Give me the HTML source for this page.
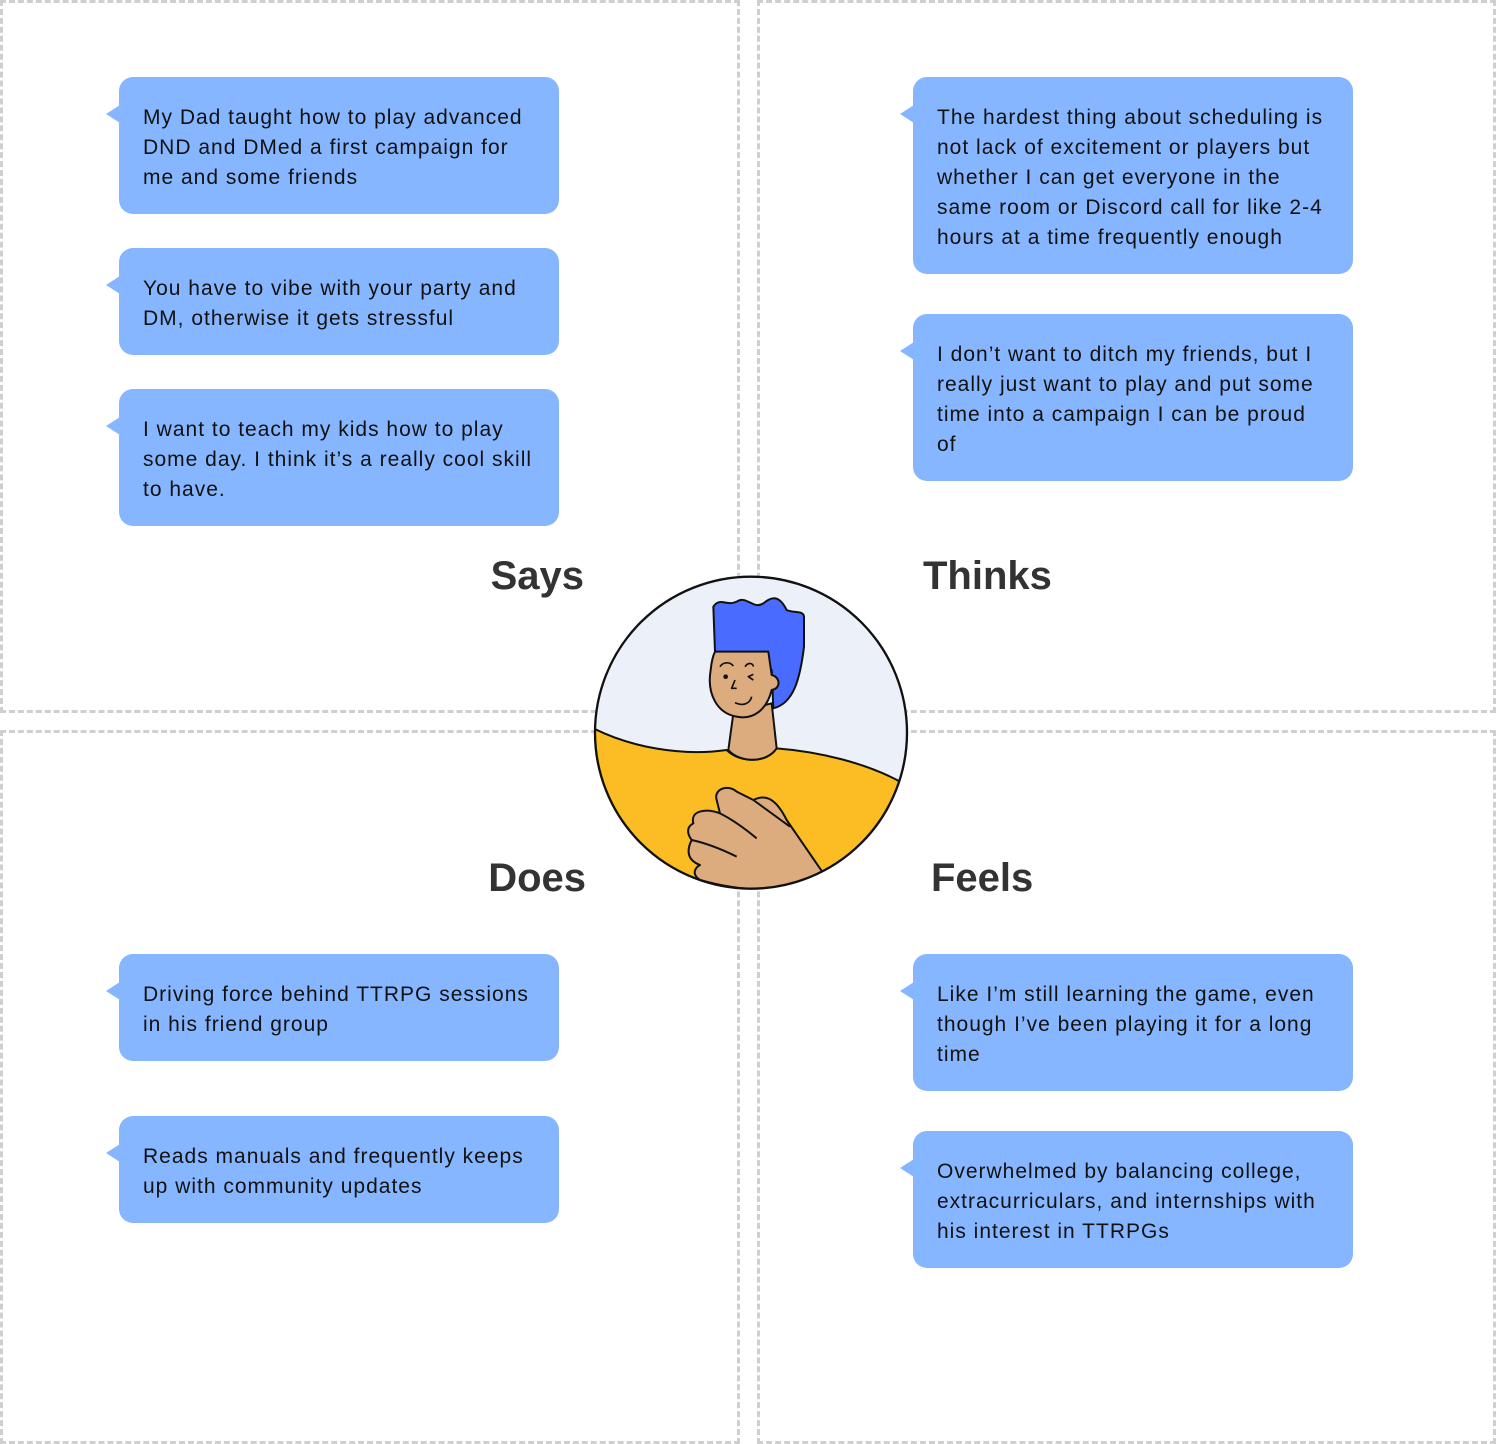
<!DOCTYPE html>
<html><head><meta charset="utf-8"><style>
html,body{margin:0;padding:0;background:#fff;}
body{width:1496px;height:1444px;position:relative;overflow:hidden;font-family:"Liberation Sans",sans-serif;}
.q{position:absolute;border:3px dashed #cfcfcf;box-sizing:border-box;}
.b{position:absolute;background:#86b6ff;border-radius:14px;width:440px;box-sizing:border-box;padding:26px 0 0 24px;font-size:21px;line-height:30px;color:#111;white-space:nowrap;letter-spacing:1px;}
.b:before{content:"";position:absolute;left:-13px;top:28px;border-top:9px solid transparent;border-bottom:9px solid transparent;border-right:14px solid #86b6ff;}
.h{position:absolute;font-size:40px;font-weight:bold;color:#333;line-height:48px;}
</style></head><body>
<div class="q" style="left:0;top:0;width:740px;height:713px"></div>
<div class="q" style="left:757px;top:0;width:739px;height:713px"></div>
<div class="q" style="left:0;top:730px;width:740px;height:714px"></div>
<div class="q" style="left:757px;top:730px;width:739px;height:714px"></div>

<div class="b" style="left:119px;top:77px;height:137px">My Dad taught how to play advanced<br>DND and DMed a first campaign for<br>me and some friends</div>
<div class="b" style="left:119px;top:248px;height:107px">You have to vibe with your party and<br>DM, otherwise it gets stressful</div>
<div class="b" style="left:119px;top:389px;height:137px">I want to teach my kids how to play<br>some day. I think it’s a really cool skill<br>to have.</div>

<div class="b" style="left:913px;top:77px;height:197px">The hardest thing about scheduling is<br>not lack of excitement or players but<br>whether I can get everyone in the<br>same room or Discord call for like 2-4<br>hours at a time frequently enough</div>
<div class="b" style="left:913px;top:314px;height:167px">I don’t want to ditch my friends, but I<br>really just want to play and put some<br>time into a campaign I can be proud<br>of</div>

<div class="b" style="left:119px;top:954px;height:107px">Driving force behind TTRPG sessions<br>in his friend group</div>
<div class="b" style="left:119px;top:1116px;height:107px">Reads manuals and frequently keeps<br>up with community updates</div>

<div class="b" style="left:913px;top:954px;height:137px">Like I’m still learning the game, even<br>though I’ve been playing it for a long<br>time</div>
<div class="b" style="left:913px;top:1131px;height:137px">Overwhelmed by balancing college,<br>extracurriculars, and internships with<br>his interest in TTRPGs</div>

<div class="h" style="right:912px;top:552px">Says</div>
<div class="h" style="left:923px;top:552px">Thinks</div>
<div class="h" style="right:910px;top:854px">Does</div>
<div class="h" style="left:931px;top:854px">Feels</div>

<svg style="position:absolute;left:580px;top:560px" width="340" height="340" viewBox="0 0 1020 1020">
<defs><clipPath id="c"><circle cx="513" cy="518" r="468"/></clipPath></defs>
<circle cx="513" cy="518" r="468" fill="#ecf0f8"/>
<g clip-path="url(#c)" stroke="#111" stroke-width="6" stroke-linejoin="round">
<path d="M40 505 C150 560 300 590 440 570 C480 610 560 610 590 565 C720 575 860 610 960 665 L1000 1020 L0 1020 Z" fill="#fbbd23"/>
<path d="M460 460 L445 570 C480 610 560 610 590 565 L575 430 Z" fill="#dcab7e"/>
<path d="M405 275 L400 140 C420 110 440 140 470 125 C500 105 520 150 550 130 C580 105 600 110 620 150 C640 160 670 150 672 170 L672 260 C660 360 640 430 580 445 L575 330 Z" fill="#4a6bff"/>
<path d="M405 275 L565 275 L575 345 C600 350 605 385 575 390 C560 450 520 480 470 470 C410 460 380 400 392 330 C395 300 400 285 405 275 Z" fill="#dcab7e"/>
<path d="M340 790 C330 750 380 745 420 760 L410 720 C400 690 440 670 470 695 L520 720 C560 700 590 720 620 780 L730 940 C650 1000 500 1000 360 960 C330 940 350 920 360 915 C320 900 320 870 335 840 C320 820 320 800 340 790 Z" fill="#dcab7e"/>
<path d="M420 760 C460 780 500 810 530 835 M335 840 C380 850 430 870 470 890 M520 720 L630 800" fill="none"/>
<path d="M420 320 C430 305 450 305 460 318 M495 320 C505 305 520 310 520 320 M520 343 L505 350 L520 360" fill="none" stroke-width="5"/>
<circle cx="437" cy="350" r="7" fill="#111" stroke="none"/>
<path d="M465 360 L455 385 L470 385 M465 428 C490 440 510 430 515 410" fill="none" stroke-width="5"/>
</g>
<circle cx="513" cy="518" r="468" fill="none" stroke="#111" stroke-width="7"/>
</svg>
</body></html>
